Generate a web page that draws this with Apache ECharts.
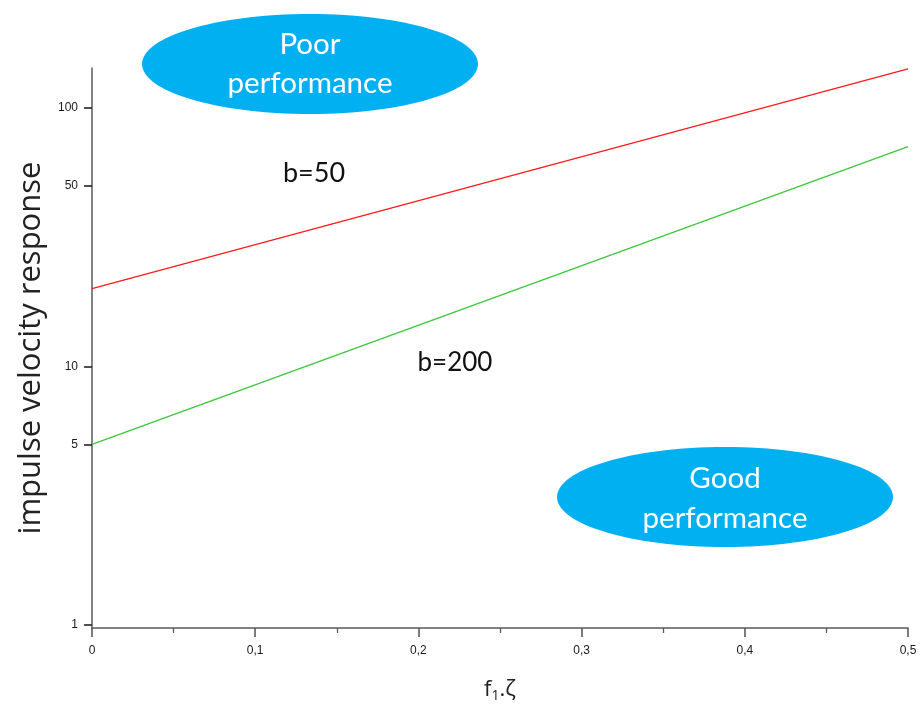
<!DOCTYPE html>
<html>
<head>
<meta charset="utf-8">
<script src="https://cdn.jsdelivr.net/npm/echarts@6/dist/echarts.min.js"></script>
<style>
  html, body { margin: 0; padding: 0; background: #ffffff; }
  #chart { width: 920px; height: 704px; }
</style>
</head>
<body>
<div id="chart"></div>
<script>
// Product f1·ζ (x) at the two ends of each curve
const xValues = [0, 0.5];
// Impulse velocity response for b = 50 and b = 200
const responseB50 = [20, 141.4];
const responseB200 = [5, 70.7];
// Tick labels
const yTickValues = [1, 5, 10, 50, 100];

const toPairs = (xs, ys) => xs.map((x, i) => [x, ys[i]]);

const chart = echarts.init(document.getElementById('chart'), null, { renderer: 'canvas' });

const tickFont = { fontFamily: 'Liberation Sans', fontSize: 12, color: '#1a1a1a' };
const axisGray = '#5a5a5a';
const bubbleBlue = '#00b0f0';

chart.setOption({
  backgroundColor: '#ffffff',
  animation: false,
  grid: { left: 92, right: 12, top: 68, bottom: 76, containLabel: false, outerBoundsMode: 'none' },
  xAxis: {
    type: 'value',
    min: 0,
    max: 0.5,
    interval: 0.1,
    name: 'f{sub|1}.ζ',
    nameLocation: 'middle',
    nameGap: 49,
    nameTextStyle: {
      fontFamily: 'Open Sans',
      fontSize: 22,
      color: '#222222',
      rich: {
        sub: { fontFamily: 'Open Sans', fontSize: 14, color: '#222222', verticalAlign: 'bottom', padding: [12, 0, 0, 0] }
      }
    },
    axisLine: { lineStyle: { color: axisGray, width: 1.5 } },
    axisTick: { show: true, length: 9, lineStyle: { color: axisGray, width: 1.6 } },
    minorTick: { show: true, splitNumber: 2, length: 5, lineStyle: { color: axisGray, width: 1.3 } },
    splitLine: { show: false },
    axisLabel: Object.assign({
      margin: 17,
      formatter: v => (Math.round(v * 10) / 10).toString().replace('.', ',')
    }, tickFont)
  },
  yAxis: {
    type: 'log',
    logBase: 10,
    min: 0.974,
    max: 142.5,
    name: 'impulse velocity response',
    nameLocation: 'middle',
    nameRotate: 90,
    nameGap: 44,
    nameTextStyle: { fontFamily: 'Open Sans', fontSize: 31, color: '#222222' },
    axisLine: { show: true, lineStyle: { color: axisGray, width: 1.5 } },
    axisTick: { show: true, length: 8, customValues: yTickValues, lineStyle: { color: '#222222', width: 1.6 } },
    minorTick: { show: false },
    splitLine: { show: false },
    axisLabel: Object.assign({ margin: 14, customValues: yTickValues }, tickFont)
  },
  series: [
    {
      name: 'b=50',
      type: 'line',
      data: toPairs(xValues, responseB50),
      showSymbol: false,
      lineStyle: { color: '#ff1a1a', width: 1.3 },
      itemStyle: { color: '#ff1a1a' }
    },
    {
      name: 'b=200',
      type: 'line',
      data: toPairs(xValues, responseB200),
      showSymbol: false,
      lineStyle: { color: '#3cc83c', width: 1.3 },
      itemStyle: { color: '#3cc83c' }
    }
  ],
  graphic: [
    {
      type: 'ellipse',
      shape: { cx: 310, cy: 64, rx: 168, ry: 50 },
      style: { fill: bubbleBlue },
      z: 10
    },
    {
      type: 'text',
      x: 310, y: 64, z: 11,
      style: {
        text: 'Poor\nperformance',
        fill: '#ffffff',
        fontFamily: 'Lato',
        fontSize: 29.5,
        lineHeight: 39,
        align: 'center',
        verticalAlign: 'middle'
      }
    },
    {
      type: 'ellipse',
      shape: { cx: 725, cy: 497, rx: 168, ry: 50 },
      style: { fill: bubbleBlue },
      z: 10
    },
    {
      type: 'text',
      x: 725, y: 498, z: 11,
      style: {
        text: 'Good\nperformance',
        fill: '#ffffff',
        fontFamily: 'Lato',
        fontSize: 29.5,
        lineHeight: 40,
        align: 'center',
        verticalAlign: 'middle'
      }
    },
    {
      type: 'text',
      x: 314, y: 173, z: 11,
      style: {
        text: 'b=50',
        fill: '#111111',
        fontFamily: 'Lato',
        fontSize: 27,
        align: 'center',
        verticalAlign: 'middle'
      }
    },
    {
      type: 'text',
      x: 455, y: 363, z: 11,
      style: {
        text: 'b=200',
        fill: '#111111',
        fontFamily: 'Lato',
        fontSize: 26,
        align: 'center',
        verticalAlign: 'middle'
      }
    }
  ]
});
</script>
</body>
</html>
